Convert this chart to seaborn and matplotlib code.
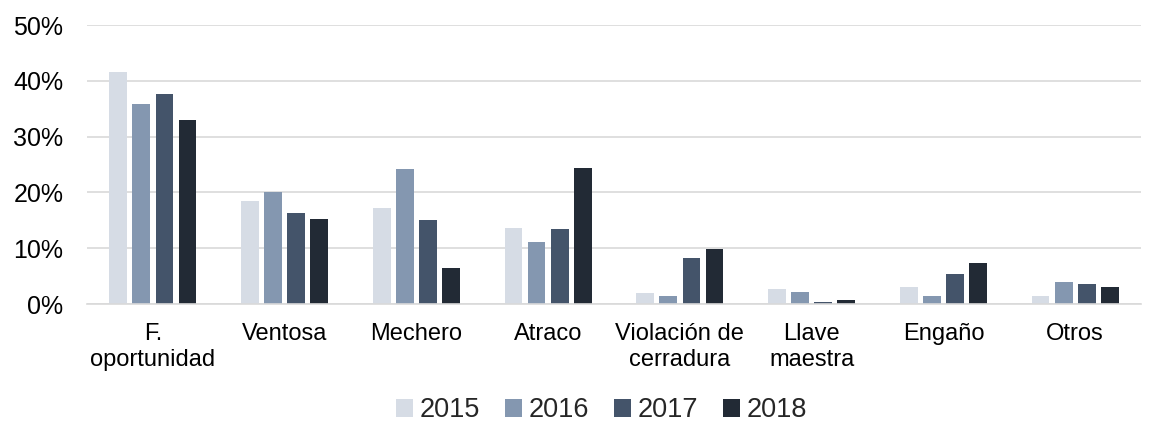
import matplotlib
matplotlib.use("Agg")
import matplotlib.pyplot as plt
import seaborn as sns
import pandas as pd
from matplotlib.patches import Patch

categories = ["F.\noportunidad", "Ventosa", "Mechero", "Atraco",
              "Violación de\ncerradura", "Llave\nmaestra", "Engaño", "Otros"]
years = ["2015", "2016", "2017", "2018"]
v2015 = [41.5, 18.4, 17.2, 13.6, 2.0, 2.7, 3.0, 1.4]
v2016 = [35.8, 20.0, 24.2, 11.1, 1.4, 2.2, 1.4, 3.9]
v2017 = [37.7, 16.3, 15.1, 13.4, 8.2, 0.4, 5.4, 3.6]
v2018 = [33.0, 15.2, 6.5, 24.4, 9.8, 0.8, 7.3, 3.0]
colors = ["#D6DCE5", "#8497B0", "#44546A", "#222A35"]

rows = []
for y, vals in zip(years, [v2015, v2016, v2017, v2018]):
    for c, v in zip(categories, vals):
        rows.append({"cat": c, "year": y, "val": v})
df = pd.DataFrame(rows)

sns.set_theme(style="white")
plt.rcParams['font.family'] = ['Liberation Sans', 'DejaVu Sans']

fig = plt.figure(figsize=(11.57, 4.24), dpi=100)
ax = fig.add_axes([0.0752, 0.283, 0.911, 0.658])
sns.barplot(data=df, x="cat", y="val", hue="year", palette=colors,
            order=categories, hue_order=years, width=0.70, gap=0.23,
            saturation=1, ax=ax, legend=False, edgecolor="none")

ax.set_ylim(0, 50)
ax.set_xlim(-0.5, len(categories) - 0.5)
ax.set_yticks([0, 10, 20, 30, 40, 50])
ax.set_yticklabels([f"{t}%" for t in [0, 10, 20, 30, 40, 50]], fontsize=18, color="#000000")
ax.set_xticks(range(len(categories)))
ax.set_xticklabels(categories, fontsize=17, color="#000000", linespacing=1.2)
ax.tick_params(axis="x", pad=14, length=0)
ax.tick_params(axis="y", length=0, pad=17)
ax.set_xlabel("")
ax.set_ylabel("")
ax.grid(axis="y", color="#D9D9D9", linewidth=1.2)
ax.set_axisbelow(True)
for s in ["top", "right", "left"]:
    ax.spines[s].set_visible(False)
ax.spines["bottom"].set_color("#D9D9D9")
ax.spines["bottom"].set_linewidth(1.2)

handles = [Patch(facecolor=c, edgecolor="none", label=y) for c, y in zip(colors, years)]
fig.legend(handles=handles, loc="center", bbox_to_anchor=(0.52, 0.032), ncol=4,
           frameon=False, fontsize=19.5, handlelength=0.62, handleheight=0.62,
           handletextpad=0.25, columnspacing=0.92, borderpad=0)

fig.savefig("out.png", dpi=100)
